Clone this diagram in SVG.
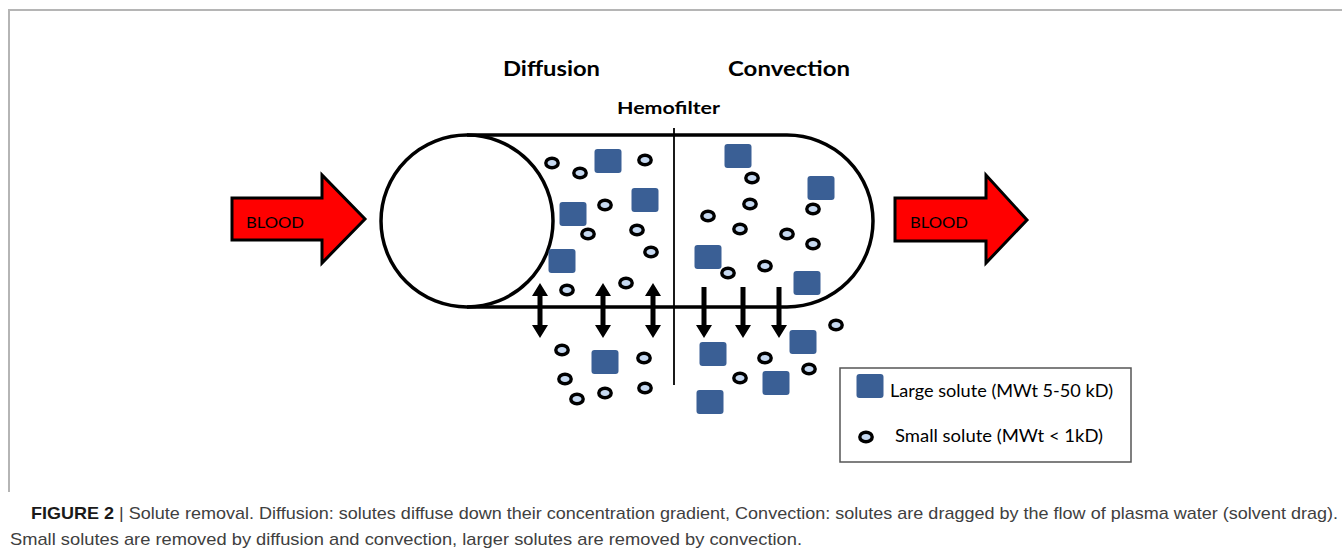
<svg xmlns="http://www.w3.org/2000/svg" xmlns:xlink="http://www.w3.org/1999/xlink" width="1342" height="556" viewBox="0 0 1342 556">
<style>
.lbl{font-family:Lato,"Open Sans","Liberation Sans",sans-serif;fill:#000}
.b{font-weight:bold}
.shape{fill:none;stroke:#000;stroke-width:3.5}
.arrow{fill:#ff0000;stroke:#000;stroke-width:3;stroke-linejoin:miter}
.small{fill:#c6d9f1;stroke:#000;stroke-width:3.4}
.large{fill:#3a5f95}
.cap{font-family:"Liberation Sans",Arial,sans-serif;font-size:17px;fill:#404040}
</style>
<defs>
<ellipse id="s" rx="6.2" ry="4.7" class="small"/>
<rect id="L" x="-13.5" y="-12" width="27" height="24" rx="3" class="large"/>
<path id="dn" d="M-2.5,0 H2.5 V38 H8 L0,51 L-8,38 H-2.5 Z" fill="#000"/>
<path id="ud" d="M0,0 L8,13 H2.5 V42 H8 L0,55 L-8,42 H-2.5 V13 H-8 Z" fill="#000"/>
</defs>
<rect width="1342" height="556" fill="#fff"/>
<path d="M9,492 V10 H1342" fill="none" stroke="#b5b5b5" stroke-width="2"/>

<g id="titles">
<text class="lbl b" x="503" y="76" font-size="20" textLength="97" lengthAdjust="spacingAndGlyphs">Diffusion</text>
<text class="lbl b" x="728" y="76" font-size="20" textLength="122" lengthAdjust="spacingAndGlyphs">Convection</text>
<text class="lbl b" x="617" y="114" font-size="17" textLength="103" lengthAdjust="spacingAndGlyphs">Hemofilter</text>
</g>

<g id="hemofilter">
<path class="shape" d="M467,135 H787 A86,86 0 0 1 787,307 H467"/>
<circle class="shape" cx="467" cy="221" r="86"/>
<line x1="674" y1="128" x2="674" y2="385" stroke="#000" stroke-width="1.8"/>
</g>

<g id="blood-in">
<path class="arrow" d="M232,198 H322 V175 L365,219 L322,263 V240 H232 Z"/>
<text class="lbl" x="246" y="228" font-size="16" textLength="58" lengthAdjust="spacingAndGlyphs">BLOOD</text>
</g>
<g id="blood-out">
<path class="arrow" d="M895,198 H986 V175 L1027,220 L986,263 V241 H895 Z"/>
<text class="lbl" x="910" y="228" font-size="16" textLength="58" lengthAdjust="spacingAndGlyphs">BLOOD</text>
</g>

<g id="connectors">
<use xlink:href="#ud" x="540" y="283"/>
<use xlink:href="#ud" x="603" y="283"/>
<use xlink:href="#ud" x="653" y="283"/>
<use xlink:href="#dn" x="704" y="287"/>
<use xlink:href="#dn" x="743" y="287"/>
<use xlink:href="#dn" x="779" y="287"/>
</g>

<g id="large-solutes">
<use xlink:href="#L" x="608" y="161"/>
<use xlink:href="#L" x="645" y="200"/>
<use xlink:href="#L" x="573" y="214"/>
<use xlink:href="#L" x="562" y="261"/>
<use xlink:href="#L" x="738" y="156"/>
<use xlink:href="#L" x="821" y="188"/>
<use xlink:href="#L" x="708" y="257"/>
<use xlink:href="#L" x="807" y="283"/>
<use xlink:href="#L" x="605" y="362"/>
<use xlink:href="#L" x="713" y="354"/>
<use xlink:href="#L" x="803" y="342"/>
<use xlink:href="#L" x="776" y="383"/>
<use xlink:href="#L" x="710" y="402"/>
</g>

<g id="small-solutes">
<use xlink:href="#s" x="552" y="163"/>
<use xlink:href="#s" x="580" y="173"/>
<use xlink:href="#s" x="645" y="160"/>
<use xlink:href="#s" x="605" y="205"/>
<use xlink:href="#s" x="588" y="234"/>
<use xlink:href="#s" x="637" y="230"/>
<use xlink:href="#s" x="651" y="252"/>
<use xlink:href="#s" x="567" y="290"/>
<use xlink:href="#s" x="626" y="283"/>
<use xlink:href="#s" x="752" y="178"/>
<use xlink:href="#s" x="750" y="204"/>
<use xlink:href="#s" x="708" y="216"/>
<use xlink:href="#s" x="813" y="209"/>
<use xlink:href="#s" x="740" y="229"/>
<use xlink:href="#s" x="787" y="234"/>
<use xlink:href="#s" x="813" y="244"/>
<use xlink:href="#s" x="728" y="273"/>
<use xlink:href="#s" x="765" y="266"/>
<use xlink:href="#s" x="562" y="350"/>
<use xlink:href="#s" x="644" y="358"/>
<use xlink:href="#s" x="565" y="379"/>
<use xlink:href="#s" x="577" y="399"/>
<use xlink:href="#s" x="605" y="393"/>
<use xlink:href="#s" x="645" y="388"/>
<use xlink:href="#s" x="836" y="325"/>
<use xlink:href="#s" x="765" y="358"/>
<use xlink:href="#s" x="809" y="369"/>
<use xlink:href="#s" x="740" y="378"/>
</g>

<g id="legend">
<rect x="840" y="368" width="291" height="94" fill="#fff" stroke="#555" stroke-width="1.5"/>
<use xlink:href="#L" x="870" y="386"/>
<text class="lbl" x="890" y="397" font-size="17" textLength="223" lengthAdjust="spacingAndGlyphs">Large solute (MWt 5-50 kD)</text>
<use xlink:href="#s" x="866" y="437"/>
<text class="lbl" x="895" y="442" font-size="17" textLength="208" lengthAdjust="spacingAndGlyphs">Small solute (MWt &lt; 1kD)</text>
</g>

<g id="caption">
<text class="cap" x="31" y="519" textLength="1307" lengthAdjust="spacingAndGlyphs"><tspan font-weight="bold" fill="#1a1a1a">FIGURE 2</tspan> | Solute removal. Diffusion: solutes diffuse down their concentration gradient, Convection: solutes are dragged by the flow of plasma water (solvent drag).</text>
<text class="cap" x="10" y="545" textLength="792" lengthAdjust="spacingAndGlyphs">Small solutes are removed by diffusion and convection, larger solutes are removed by convection.</text>
</g>
</svg>
